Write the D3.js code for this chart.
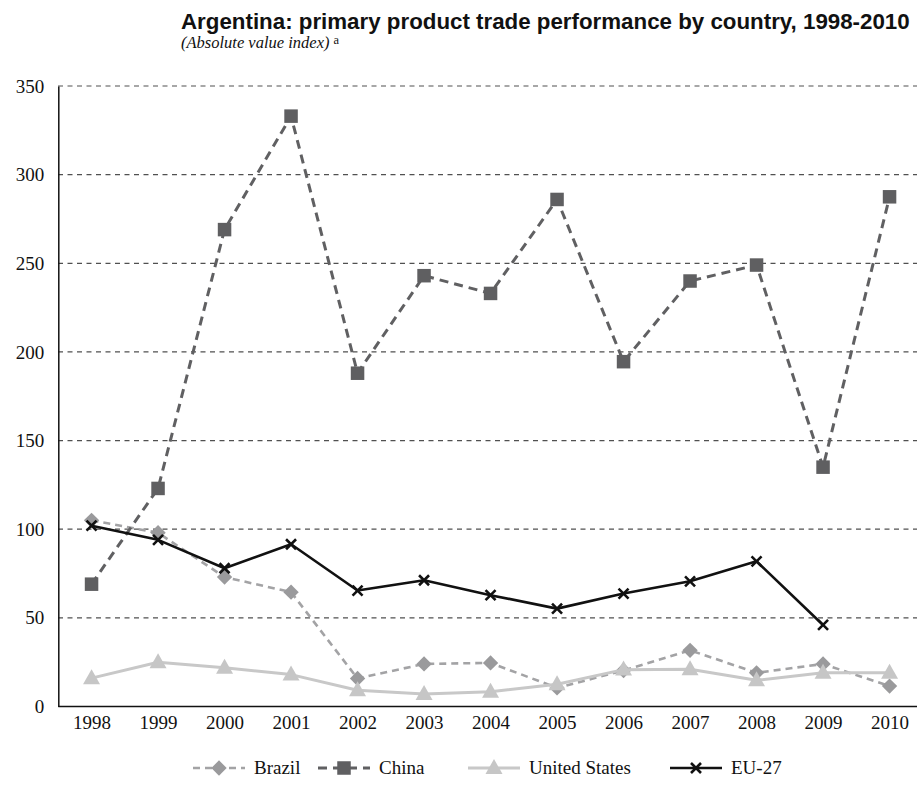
<!DOCTYPE html>
<html><head><meta charset="utf-8">
<script src="https://cdn.jsdelivr.net/npm/d3@7"></script>
<style>
body{margin:0;background:#fff;}
svg{display:block;}
</style></head>
<body>
<svg id="c" width="917" height="787"></svg>
<script>
const years = ["1998","1999","2000","2001","2002","2003","2004","2005","2006","2007","2008","2009","2010"];
const brazil = [105, 98, 73, 64.5, 15.8, 24, 24.6, 10.5, 20.3, 31.7, 19, 24, 11.5];
const china = [69, 123, 269, 333, 188, 243, 233, 286, 194.5, 240, 249, 135, 287.5];
const unitedStates = [16, 25, 21.8, 18, 9.2, 7, 8.3, 12.5, 20.8, 21, 14.8, 19, 19];
const eu27 = [102, 94, 78, 91.5, 65.4, 71.2, 62.8, 55.2, 63.7, 70.6, 81.9, 46, null];
const yTicks = [0, 50, 100, 150, 200, 250, 300, 350];
const seriesNames = ["Brazil", "China", "United States", "EU-27"];

const serif = "'Liberation Serif', 'Times New Roman', Times, serif";
const svg = d3.select("#c");
const x = d3.scalePoint().domain(years).range([58.3, 922.8]).padding(0.5);
const y = d3.scaleLinear().domain([0, 350]).range([706.5, 86]);

// gridlines
svg.append("g").selectAll("line").data(yTicks.filter(d => d > 0)).join("line")
  .attr("x1", 58).attr("x2", 917)
  .attr("y1", d => y(d)).attr("y2", d => y(d))
  .attr("stroke", "#505050").attr("stroke-width", 1.2).attr("stroke-dasharray", "5,4.5");

// axes
const yAxis = svg.append("g").attr("transform", "translate(58.3,0)")
  .call(d3.axisLeft(y).tickValues(yTicks).tickSize(0).tickPadding(14));
yAxis.select(".domain").attr("stroke", "#111").attr("stroke-width", 1.5);
yAxis.selectAll("text").attr("font-family", serif)
  .attr("font-size", 19).attr("fill", "#111");

const xAxis = svg.append("g").attr("transform", "translate(0,706.5)")
  .call(d3.axisBottom(x).tickSize(0).tickPadding(9));
xAxis.select(".domain").attr("stroke", "#111").attr("stroke-width", 1.5)
  .attr("d", "M58.3,0H917");
xAxis.selectAll("text").attr("font-family", serif)
  .attr("font-size", 19).attr("fill", "#111");

const styles = {
  "Brazil": {data: brazil, color: "#a3a3a5", mcolor: "#9a9a9c", width: 2.6, dash: "7,5", marker: "diamond"},
  "China": {data: china, color: "#606062", mcolor: "#5f5f61", width: 3, dash: "9,6", marker: "square"},
  "United States": {data: unitedStates, color: "#c8c8c8", mcolor: "#c6c6c6", width: 3, dash: null, marker: "triangle"},
  "EU-27": {data: eu27, color: "#111", mcolor: "#111", width: 2.6, dash: null, marker: "x"}
};

function drawMarker(g, type, cx, cy, color) {
  if (type === "diamond") {
    g.append("path").attr("d", d3.symbol(d3.symbolDiamond2, 150)())
      .attr("transform", `translate(${cx},${cy})`).attr("fill", color);
  } else if (type === "square") {
    g.append("rect").attr("x", cx - 6.75).attr("y", cy - 6.75).attr("width", 13.5).attr("height", 13.5).attr("fill", color);
  } else if (type === "triangle") {
    g.append("path").attr("d", `M${cx},${cy-9}L${cx+8.5},${cy+6}L${cx-8.5},${cy+6}Z`).attr("fill", color);
  } else if (type === "x") {
    g.append("path").attr("d", `M${cx-5},${cy-5}L${cx+5},${cy+5}M${cx-5},${cy+5}L${cx+5},${cy-5}`)
      .attr("stroke", color).attr("stroke-width", 2.6).attr("fill", "none");
  }
}

seriesNames.forEach(name => {
  const s = styles[name];
  const pts = years.map((yr, i) => ({yr, v: s.data[i]})).filter(d => d.v != null);
  const g = svg.append("g");
  const line = d3.line().x(d => x(d.yr)).y(d => y(d.v));
  g.append("path").datum(pts).attr("d", line).attr("fill", "none")
    .attr("stroke", s.color).attr("stroke-width", s.width)
    .attr("stroke-dasharray", s.dash).attr("stroke-linejoin", "round");
  pts.forEach(d => drawMarker(g, s.marker, x(d.yr), y(d.v), s.mcolor));
});

// legend
const legendPos = {"Brazil": 193, "China": 318, "United States": 468, "EU-27": 670};
const ly = 768;
seriesNames.forEach(name => {
  const s = styles[name];
  const lx = legendPos[name];
  const g = svg.append("g");
  g.append("line").attr("x1", lx).attr("x2", lx + 52).attr("y1", ly).attr("y2", ly)
    .attr("stroke", s.color).attr("stroke-width", s.width).attr("stroke-dasharray", s.dash);
  drawMarker(g, s.marker, lx + 26, ly, s.mcolor);
  g.append("text").attr("x", lx + 61).attr("y", ly + 6).text(name)
    .attr("font-family", serif).attr("font-size", 19).attr("fill", "#111");
});

// title
const title = svg.append("text").attr("x", 181).attr("y", 29)
  .attr("font-family", "'Liberation Sans', Arial, Helvetica, sans-serif").attr("font-weight", "bold")
  .attr("font-size", 20).attr("fill", "#111")
  .text("Argentina: primary product trade performance by country, 1998-2010");
const tw = title.node().getComputedTextLength();
title.attr("font-size", 20 * 729 / tw);

const sub = svg.append("text").attr("x", 181).attr("y", 48)
  .attr("font-family", serif).attr("font-size", 16.5).attr("fill", "#111");
sub.append("tspan").attr("font-family", serif).attr("font-style", "italic").text("(Absolute value index)");
sub.append("tspan").attr("font-family", serif).attr("font-size", 12.5).attr("dx", 4).attr("dy", -4).text("a");
</script>
</body></html>
